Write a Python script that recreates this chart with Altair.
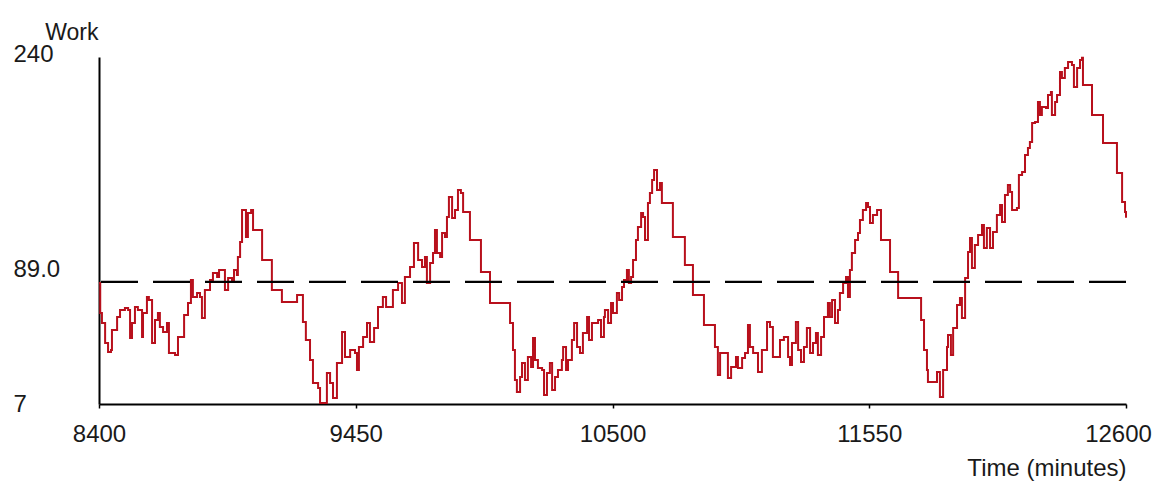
import altair as alt
import pandas as pd

time_min = [
    8400, 8405, 8412, 8425, 8437, 8449, 8453, 8474, 8486, 8506, 8519, 8527, 8535, 8547, 8559,
    8576, 8580, 8596, 8604, 8617, 8629, 8641, 8649, 8662, 8678, 8686, 8711, 8723, 8748, 8764,
    8776, 8784, 8801, 8813, 8821, 8833, 8854, 8866, 8883, 8891, 8915, 8928, 8944, 8952, 8964,
    8968, 8977, 8985, 9001, 9009, 9022, 9030, 9067, 9107, 9148, 9210, 9234, 9246, 9263, 9275,
    9296, 9304, 9332, 9345, 9357, 9373, 9394, 9406, 9427, 9447, 9455, 9463, 9480, 9496, 9508,
    9525, 9541, 9561, 9574, 9602, 9623, 9639, 9651, 9672, 9688, 9705, 9721, 9733, 9741, 9754,
    9766, 9774, 9782, 9795, 9803, 9815, 9823, 9831, 9844, 9856, 9868, 9880, 9889, 9917, 9962,
    9999, 10081, 10093, 10101, 10109, 10122, 10130, 10142, 10154, 10167, 10175, 10183, 10195, 10212, 10220,
    10232, 10244, 10253, 10265, 10277, 10293, 10298, 10310, 10318, 10334, 10343, 10355, 10367, 10379, 10396,
    10404, 10416, 10441, 10453, 10465, 10469, 10482, 10494, 10502, 10518, 10527, 10539, 10547, 10559, 10567,
    10576, 10584, 10596, 10604, 10617, 10625, 10633, 10645, 10653, 10662, 10670, 10682, 10694, 10702, 10747,
    10796, 10829, 10874, 10919, 10931, 10940, 10972, 10985, 11005, 11013, 11030, 11042, 11054, 11062, 11075,
    11095, 11111, 11132, 11144, 11156, 11185, 11201, 11218, 11226, 11234, 11250, 11259, 11271, 11283, 11295,
    11308, 11320, 11332, 11340, 11353, 11365, 11381, 11389, 11398, 11410, 11422, 11430, 11443, 11455, 11463,
    11471, 11479, 11492, 11504, 11512, 11524, 11537, 11545, 11553, 11565, 11582, 11598, 11635, 11668, 11762,
    11774, 11786, 11790, 11827, 11839, 11852, 11868, 11872, 11884, 11893, 11909, 11921, 11929, 11942, 11954,
    11962, 11970, 11982, 11995, 12011, 12019, 12031, 12044, 12056, 12072, 12085, 12093, 12105, 12117, 12126,
    12134, 12154, 12162, 12175, 12187, 12199, 12207, 12216, 12228, 12240, 12248, 12256, 12273, 12281, 12293,
    12297, 12310, 12318, 12330, 12338, 12350, 12363, 12379, 12387, 12400, 12412, 12420, 12424, 12461, 12506,
    12563, 12584, 12596, 12600,
]

work = [
    88.3, 68.1, 61.4, 48.0, 41.9, 43.3, 56.7, 65.4, 70.1, 71.5, 70.1, 51.3, 61.4, 72.1, 70.1,
    52.0, 68.1, 78.9, 76.8, 48.0, 63.4, 68.1, 58.7, 55.3, 61.4, 41.2, 39.9, 52.0, 66.8, 74.8,
    90.3, 78.9, 81.5, 78.9, 64.7, 83.6, 90.3, 95.0, 92.3, 97.0, 83.6, 91.6, 90.3, 97.0, 93.6,
    105.7, 115.8, 137.3, 119.1, 135.3, 137.3, 123.8, 103.7, 83.6, 75.5, 80.2, 62.0, 50.0, 36.5, 21.1,
    17.7, 7.7, 27.8, 21.1, 11.0, 34.5, 55.3, 38.6, 43.3, 41.2, 29.8, 45.3, 52.0, 61.4, 48.6,
    58.0, 72.1, 78.9, 72.1, 83.6, 88.3, 74.8, 92.3, 99.0, 115.1, 103.7, 99.0, 105.7, 88.3, 101.7,
    108.4, 123.8, 108.4, 105.7, 121.8, 119.1, 132.6, 146.0, 131.9, 137.3, 150.7, 148.7, 135.9, 117.1, 95.6,
    74.8, 61.4, 43.3, 23.1, 15.1, 25.1, 34.5, 23.1, 38.6, 31.8, 51.3, 36.5, 31.2, 29.8, 13.0,
    27.8, 34.5, 16.4, 25.1, 29.8, 36.5, 45.3, 29.8, 36.5, 50.0, 61.4, 45.3, 41.2, 54.7, 65.4,
    50.0, 61.4, 63.4, 52.0, 65.4, 70.1, 61.4, 74.8, 68.1, 81.5, 76.8, 85.6, 90.3, 97.0, 88.3,
    92.3, 103.7, 117.1, 125.9, 135.3, 132.6, 117.1, 142.0, 148.7, 157.4, 164.1, 150.7, 155.4, 142.0, 119.1,
    100.3, 80.2, 60.0, 45.3, 26.5, 41.2, 24.5, 31.8, 38.6, 31.2, 37.9, 41.2, 60.0, 45.3, 41.2,
    28.5, 43.3, 62.1, 58.7, 38.6, 50.0, 52.0, 38.6, 33.2, 48.0, 62.1, 43.3, 35.2, 45.3, 58.0,
    41.2, 48.0, 54.7, 39.9, 52.0, 65.4, 74.8, 65.4, 76.8, 61.4, 70.1, 81.5, 88.3, 92.3, 78.9,
    97.0, 108.4, 117.1, 121.8, 130.6, 137.3, 142.0, 139.3, 128.5, 133.9, 137.3, 117.1, 95.6, 78.2, 63.4,
    43.3, 29.8, 21.8, 28.5, 11.7, 29.8, 45.3, 53.3, 39.9, 58.0, 73.5, 78.2, 64.7, 91.6, 109.1,
    118.5, 98.3, 113.8, 120.5, 127.2, 111.8, 125.2, 111.8, 122.5, 133.9, 140.6, 129.2, 147.3, 154.1, 149.4,
    137.3, 138.6, 160.8, 162.8, 174.2, 178.9, 182.9, 195.7, 196.4, 209.8, 201.1, 206.4, 205.8, 214.5, 216.5,
    201.1, 209.8, 214.5, 229.9, 225.9, 232.6, 236.7, 234.6, 219.9, 232.6, 238.0, 239.5, 221.2, 201.1, 182.3,
    162.1, 142.6, 135.9, 132.0,
]

threshold = [89.0]
x_ticks = [8400, 9450, 10500, 11550, 12600]
y_ticks = [7, 89, 240]

FONT = "Liberation Sans, Arial, sans-serif"
INK = "#1a1a1a"

df = pd.DataFrame({"t": time_min, "w": work})
df_thr = pd.DataFrame({"y": threshold})

x_enc = alt.X(
    "t:Q",
    scale=alt.Scale(domain=[8400, 12600], nice=False, zero=False),
    axis=alt.Axis(
        values=x_ticks, format="d", grid=False,
        domainColor="black", domainWidth=2,
        tickColor="black", tickSize=4, tickWidth=1.5,
        labelPadding=14, labelFont=FONT, labelFontSize=24, labelColor=INK,
        labelFlush=False, labelOverlap=False,
        labelOffset={"expr": "datum.value == 12600 ? -8 : 0"},
        title="Time (minutes)", titleFont=FONT, titleFontSize=24,
        titleFontWeight="normal", titleColor=INK,
        titleAlign="right", titleBaseline="alphabetic", titleX=1027, titleY=71,
    ),
)

y_enc = alt.Y(
    "w:Q",
    scale=alt.Scale(domain=[7, 240], nice=False, zero=False),
    axis=alt.Axis(
        values=y_ticks, grid=False, ticks=False,
        labelExpr="datum.value == 89 ? '89.0' : format(datum.value, 'd')",
        domainColor="black", domainWidth=2,
        labelAlign="left", labelPadding=86,
        labelBaseline={"expr": "datum.value == 89 ? 'bottom' : 'middle'"},
        labelOffset={"expr": "datum.value == 240 ? -3 : 0"},
        labelFont=FONT, labelFontSize=24, labelColor=INK, labelOverlap=False,
        labelFlush=False,
        title="Work", titleFont=FONT, titleFontSize=23, titleFontWeight="normal",
        titleColor=INK, titleAngle=0, titleAlign="right",
        titleBaseline="alphabetic", titleX=-1, titleY=-18,
    ),
)

line = alt.Chart(df).mark_line(
    interpolate="step-after", color="#b8101c", strokeWidth=2
).encode(x=x_enc, y=y_enc)

rule = alt.Chart(df_thr).mark_rule(
    color="black", strokeWidth=2.2, strokeDash=[37, 15]
).encode(y=alt.Y("y:Q"))

chart = alt.layer(line, rule).properties(
    width=1027, height=347,
    autosize=alt.AutoSizeParams(type="none"),
    padding={"left": 91, "top": 49, "right": 33, "bottom": 77},
    background="white",
).configure_view(stroke=None)

chart.save("out.html", embed_options={"renderer": "svg", "actions": False})
